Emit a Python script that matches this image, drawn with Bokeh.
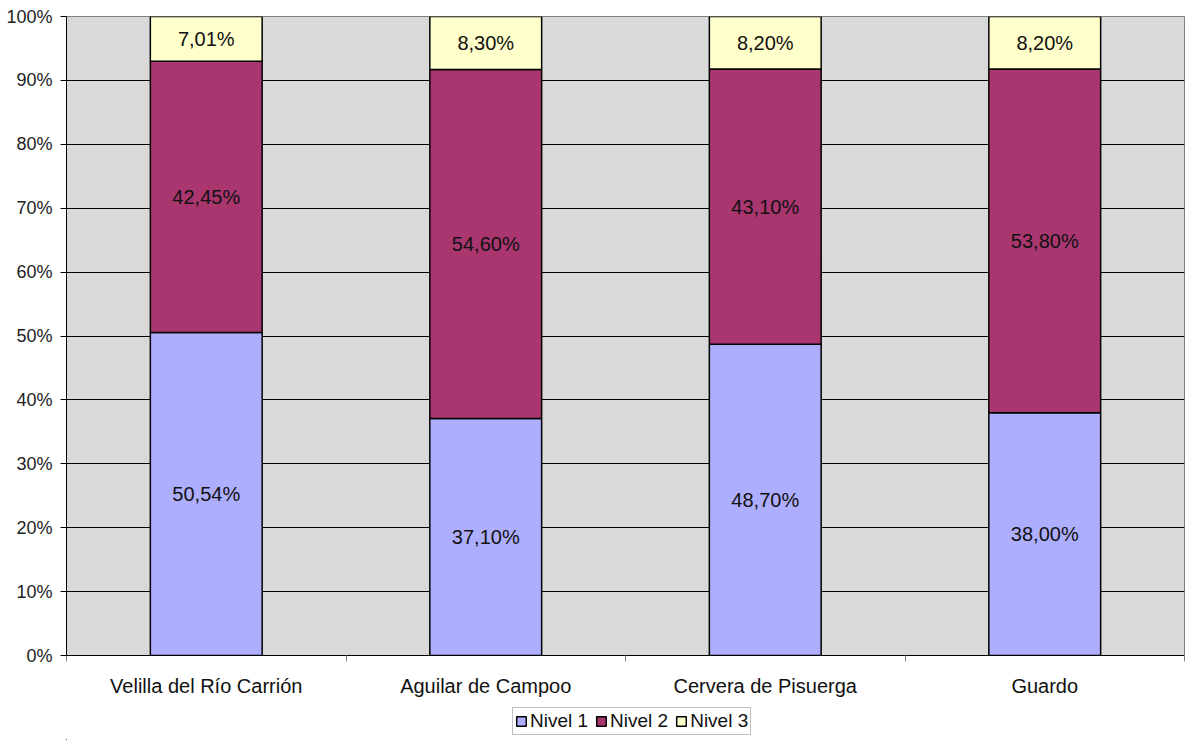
from bokeh.plotting import figure
from bokeh.layouts import column
from bokeh.models import (ColumnDataSource, FixedTicker, Legend, LegendItem, Range1d)
from bokeh.core.properties import value
from bokeh.embed import file_html
from bokeh.resources import INLINE

categories = ["Velilla del Río Carrión", "Aguilar de Campoo", "Cervera de Pisuerga", "Guardo"]
nivel1 = [50.54, 37.10, 48.70, 38.00]
nivel2 = [42.45, 54.60, 43.10, 53.80]
nivel3 = [7.01, 8.30, 8.20, 8.20]
series_names = ["Nivel 1", "Nivel 2", "Nivel 3"]
colors = ["#aeaeff", "#a9366f", "#ffffcc"]
yticks = list(range(0, 101, 10))

FONT = "Liberation Sans"

x = [i + 0.5 for i in range(len(categories))]
b1 = [0.0] * len(categories)
t1 = nivel1
b2 = t1
t2 = [a + b for a, b in zip(t1, nivel2)]
b3 = t2
t3 = [a + b for a, b in zip(t2, nivel3)]

def fmt(v):
    return ("%.2f" % v).replace(".", ",") + "%"

p = figure(width=1190, height=700, output_backend="svg", toolbar_location=None,
           x_range=Range1d(0, len(categories)), y_range=Range1d(0, 100),
           min_border_top=16, min_border_left=66, min_border_right=6, min_border_bottom=45)
p.background_fill_color = "#d9d9d9"
p.border_fill_color = "white"
p.outline_line_color = "#808080"
p.outline_line_width = 1

# legend strip below the chart (bars are also attached there but far outside its visible range; only the legend shows)
lf = figure(width=1190, height=40, output_backend="svg", toolbar_location=None,
            x_range=Range1d(1000, 1001), y_range=Range1d(1000, 1001),
            min_border_top=0, min_border_left=0, min_border_right=0, min_border_bottom=0)
lf.axis.visible = False
lf.grid.visible = False
lf.outline_line_color = None
lf.background_fill_color = "white"
lf.border_fill_color = "white"

lrs = []
for bottoms, tops, vals, col in [(b1, t1, nivel1, colors[0]), (b2, t2, nivel2, colors[1]), (b3, t3, nivel3, colors[2])]:
    src = ColumnDataSource(dict(x=x, bottom=bottoms, top=tops,
                                mid=[(a + b) / 2 for a, b in zip(bottoms, tops)],
                                lab=[fmt(v) for v in vals]))
    p.vbar(x="x", bottom="bottom", top="top", width=0.4, source=src,
           fill_color=col, line_color="black", line_width=1.5)
    p.text(x="x", y="mid", text="lab", source=src, text_align="center", text_baseline="middle",
           text_font=value(FONT), text_font_size="20px", text_color="#111111")
    lrs.append(lf.vbar(x="x", bottom="bottom", top="top", width=0.4, source=src,
                       fill_color=col, line_color="black", line_width=1.5))

# grid
p.xgrid.visible = False
p.ygrid.ticker = FixedTicker(ticks=yticks)
p.ygrid.grid_line_color = "black"
p.ygrid.grid_line_width = 1
p.ygrid.level = "underlay"

# y axis
p.yaxis.ticker = FixedTicker(ticks=yticks)
p.yaxis.major_label_overrides = {t: "%d%%" % t for t in yticks}
p.yaxis.major_label_text_font = FONT
p.yaxis.major_label_text_font_size = "18px"
p.yaxis.major_label_text_color = "#222222"
p.yaxis.major_tick_out = 6
p.yaxis.major_tick_in = 0
p.yaxis.minor_tick_out = 0
p.yaxis.minor_tick_in = 0
p.yaxis.axis_line_color = "black"
p.yaxis.major_tick_line_color = "black"
p.yaxis.major_label_standoff = 8

# x axis
p.xaxis.ticker = FixedTicker(ticks=x, minor_ticks=list(range(len(categories) + 1)))
p.xaxis.major_label_overrides = {xi: c for xi, c in zip(x, categories)}
p.xaxis.major_label_text_font = FONT
p.xaxis.major_label_text_font_size = "20px"
p.xaxis.major_label_text_color = "#111111"
p.xaxis.major_tick_out = 0
p.xaxis.major_tick_in = 0
p.xaxis.minor_tick_out = 6
p.xaxis.minor_tick_in = 0
p.xaxis.minor_tick_line_color = "#808080"
p.xaxis.axis_line_color = "black"
p.xaxis.major_label_standoff = 13

legend = Legend(items=[LegendItem(label=n, renderers=[r]) for n, r in zip(series_names, lrs)],
                orientation="horizontal", location=(446, 5))
legend.label_text_font = FONT
legend.label_text_font_size = "19px"
legend.label_text_color = "#111111"
legend.glyph_width = 12
legend.glyph_height = 12
legend.label_standoff = 3
legend.spacing = 7
legend.padding = 2
legend.margin = 0
legend.border_line_color = "#808080"
legend.border_line_width = 1
legend.background_fill_color = "white"
legend.label_height = 18
lf.add_layout(legend, "center")

layout = column(p, lf, spacing=0)
open("out.html", "w").write(file_html(layout, INLINE))
